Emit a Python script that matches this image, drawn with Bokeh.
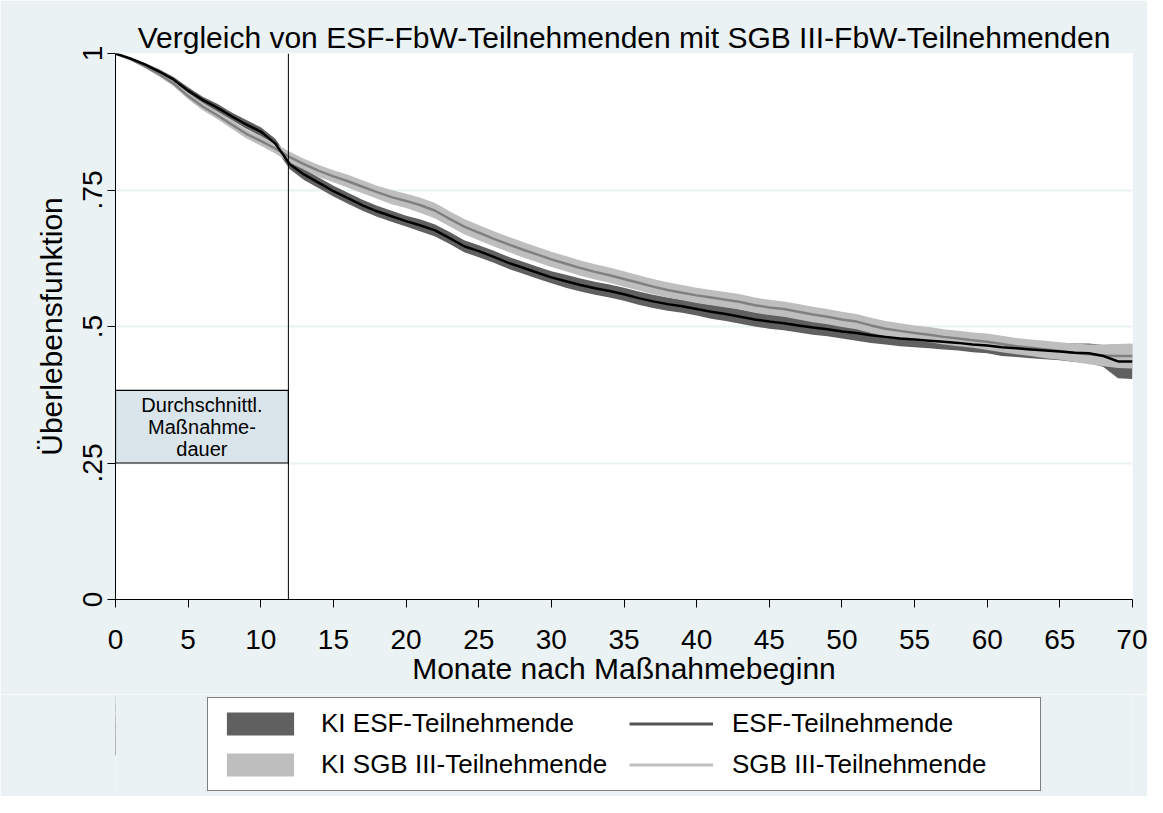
import numpy as np
from bokeh.plotting import figure
from bokeh.layouts import column
from bokeh.models import (ColumnDataSource, Range1d, FixedTicker, Span,
                          Legend, LegendItem)
from bokeh.embed import file_html
from bokeh.resources import INLINE
from bokeh.core.properties import value

# ---------------- data ----------------
months = list(range(0, 71))
esf_surv = [1.000, 0.991, 0.980, 0.967, 0.952, 0.932, 0.915, 0.901, 0.885, 0.870,
            0.857, 0.835, 0.797, 0.778, 0.763, 0.748, 0.735, 0.722, 0.711, 0.702,
            0.693, 0.685, 0.676, 0.662, 0.647, 0.638, 0.628, 0.617, 0.608, 0.599,
            0.590, 0.583, 0.576, 0.570, 0.565, 0.559, 0.552, 0.546, 0.541, 0.537,
            0.532, 0.527, 0.523, 0.518, 0.513, 0.509, 0.506, 0.502, 0.498, 0.495,
            0.491, 0.488, 0.484, 0.481, 0.478, 0.476, 0.474, 0.472, 0.470, 0.467,
            0.465, 0.462, 0.460, 0.458, 0.456, 0.454, 0.452, 0.451, 0.446, 0.436,
            0.436]
sgb_surv = [1.000, 0.990, 0.977, 0.962, 0.945, 0.922, 0.903, 0.887, 0.870, 0.853,
            0.840, 0.826, 0.810, 0.797, 0.785, 0.775, 0.766, 0.756, 0.746, 0.737,
            0.730, 0.722, 0.712, 0.697, 0.683, 0.672, 0.661, 0.651, 0.641, 0.632,
            0.623, 0.615, 0.607, 0.600, 0.594, 0.587, 0.580, 0.573, 0.567, 0.562,
            0.557, 0.553, 0.549, 0.545, 0.539, 0.535, 0.532, 0.527, 0.522, 0.518,
            0.513, 0.509, 0.502, 0.496, 0.492, 0.488, 0.485, 0.481, 0.478, 0.475,
            0.472, 0.468, 0.464, 0.461, 0.458, 0.455, 0.452, 0.449, 0.447, 0.446,
            0.446]
esf_ci_half = [0.000, 0.002, 0.003, 0.004, 0.005, 0.006, 0.006, 0.007, 0.007, 0.008,
               0.008, 0.009, 0.009, 0.010, 0.010, 0.010, 0.010, 0.010, 0.010, 0.010,
               0.010, 0.011, 0.011, 0.011, 0.011, 0.011, 0.011, 0.011, 0.011, 0.011,
               0.011, 0.012, 0.012, 0.012, 0.012, 0.012, 0.012, 0.012, 0.012, 0.012,
               0.012, 0.013, 0.013, 0.013, 0.013, 0.013, 0.013, 0.013, 0.013, 0.013,
               0.013, 0.014, 0.014, 0.014, 0.014, 0.014, 0.014, 0.014, 0.014, 0.014,
               0.014, 0.016, 0.016, 0.016, 0.016, 0.016, 0.017, 0.018, 0.020, 0.031,
               0.032]
sgb_ci_half = [0.000, 0.002, 0.003, 0.004, 0.005, 0.006, 0.007, 0.007, 0.008, 0.008,
               0.009, 0.009, 0.010, 0.010, 0.011, 0.011, 0.012, 0.012, 0.012, 0.013,
               0.013, 0.014, 0.014, 0.014, 0.014, 0.014, 0.014, 0.014, 0.014, 0.014,
               0.014, 0.014, 0.014, 0.014, 0.014, 0.014, 0.014, 0.014, 0.014, 0.014,
               0.014, 0.014, 0.014, 0.014, 0.014, 0.014, 0.014, 0.014, 0.014, 0.014,
               0.014, 0.014, 0.014, 0.014, 0.014, 0.014, 0.014, 0.014, 0.014, 0.014,
               0.015, 0.015, 0.015, 0.015, 0.016, 0.016, 0.017, 0.018, 0.020, 0.022,
               0.023]
avg_duration = 11.9          # durchschnittliche Maßnahmedauer (Monate)
box_bottom, box_top = 0.25, 0.383
box_label_lines = ["Durchschnittl.", "Maßnahme-", "dauer"]
x_ticks = list(range(0, 71, 5))
y_ticks = [0, 0.25, 0.5, 0.75, 1]
y_tick_labels = ["0", ".25", ".5", ".75", "1"]
legend_labels = ["KI ESF-Teilnehmende", "KI SGB III-Teilnehmende",
                 "ESF-Teilnehmende", "SGB III-Teilnehmende"]

title_text = "Vergleich von ESF-FbW-Teilnehmenden mit SGB III-FbW-Teilnehmenden"
x_title = "Monate nach Maßnahmebeginn"
y_title = "Überlebensfunktion"

# ---------------- styling ----------------
BG = "#EAF2F3"
FONT = "Liberation Sans"
DARK_BAND = "#606060"
LIGHT_BAND = "#BEBEBE"

m = np.array(months, dtype=float)
e = np.array(esf_surv)
s = np.array(sgb_surv)
he = np.array(esf_ci_half)
hs = np.array(sgb_ci_half)
src = ColumnDataSource(dict(m=m, e=e, s=s, e_lo=e - he, e_hi=e + he,
                            s_lo=s - hs, s_hi=s + hs))

p = figure(output_backend="svg", toolbar_location=None,
           frame_width=1017, frame_height=546,
           min_border_left=115, min_border_right=15,
           min_border_top=53, min_border_bottom=95,
           x_range=Range1d(0, 70), y_range=Range1d(0, 1),
           background_fill_color="white", border_fill_color=BG)
p.outline_line_color = None

p.title.text = title_text
p.title.align = "center"
p.title.text_font = FONT
p.title.text_font_size = "30px"
p.title.text_font_style = "normal"
p.title.text_color = "black"
p.title.standoff = 0

# grid
p.xgrid.visible = False
p.ygrid.ticker = FixedTicker(ticks=[0.25, 0.5, 0.75])
p.ygrid.grid_line_color = BG
p.ygrid.grid_line_width = 2

# axes
for ax in (p.xaxis[0], p.yaxis[0]):
    ax.axis_line_color = "black"
    ax.axis_line_width = 1
    ax.major_tick_line_color = "black"
    ax.major_tick_out = 8
    ax.major_tick_in = 0
    ax.minor_tick_line_color = None
    ax.major_label_text_font = FONT
    ax.major_label_text_font_size = "28px"
    ax.major_label_text_color = "black"
    ax.axis_label_text_font = FONT
    ax.axis_label_text_font_size = "30px"
    ax.axis_label_text_font_style = "normal"
    ax.axis_label_text_color = "black"

p.xaxis.ticker = FixedTicker(ticks=x_ticks)
p.xaxis.axis_label = x_title
p.xaxis.major_label_standoff = 22
p.xaxis.axis_label_standoff = 0

p.yaxis.ticker = FixedTicker(ticks=y_ticks)
p.yaxis.major_label_overrides = {t: l for t, l in zip(y_ticks, y_tick_labels)}
p.yaxis.major_label_orientation = "vertical"
p.yaxis.axis_label = y_title
p.yaxis.major_label_standoff = 6
p.yaxis.axis_label_standoff = 12

# bands and lines
p.varea(x="m", y1="e_lo", y2="e_hi", source=src, fill_color=DARK_BAND)
p.varea(x="m", y1="s_lo", y2="s_hi", source=src, fill_color=LIGHT_BAND)
p.line(x="m", y="s", source=src, line_color="#808080", line_width=2.5)
p.line(x="m", y="e", source=src, line_color="black", line_width=2.5)

# annotation box + vertical line
p.quad(left=[0], right=[avg_duration], bottom=[box_bottom], top=[box_top],
       fill_color="#D9E5EB", line_color="black", line_width=1.2)
p.add_layout(Span(location=avg_duration, dimension="height",
                  line_color="black", line_width=1))
box_mid = (box_bottom + box_top) / 2
step = (box_top - box_bottom) / 3.3
p.text(x=[avg_duration / 2] * 3,
       y=[box_mid + step, box_mid, box_mid - step],
       text=box_label_lines, text_align="center", text_baseline="middle",
       text_font=value(FONT), text_font_size="20px", text_color="black")

# ---------------- legend strip (separate figure underneath) ----------------
# legend keys reuse the same data, drawn outside this strip's visible range
lf = figure(output_backend="svg", toolbar_location=None,
            frame_width=1017, height=102,
            min_border_left=115, min_border_right=15,
            min_border_top=0, min_border_bottom=0,
            x_axis_location=None, y_axis_location=None,
            x_range=Range1d(1000, 1001), y_range=Range1d(0, 1),
            background_fill_color=BG, border_fill_color=BG)
lf.outline_line_color = None
lf.grid.visible = False
k1 = lf.vbar(x="m", bottom="e_lo", top="e_hi", width=0.5, source=src,
             fill_color=DARK_BAND, line_color=None)
k2 = lf.vbar(x="m", bottom="s_lo", top="s_hi", width=0.5, source=src,
             fill_color=LIGHT_BAND, line_color=None)
k3 = lf.line(x="m", y="e", source=src, line_color="#555555", line_width=3)
k4 = lf.line(x="m", y="s", source=src, line_color="#C0C0C0", line_width=3)
legend = Legend(items=[LegendItem(label=legend_labels[0], renderers=[k1]),
                       LegendItem(label=legend_labels[1], renderers=[k2]),
                       LegendItem(label=legend_labels[2], renderers=[k3]),
                       LegendItem(label=legend_labels[3], renderers=[k4])],
                location=(92, 5), orientation="vertical", nrows=2,
                glyph_width=84, glyph_height=29, label_standoff=19,
                label_width=298, spacing=10, padding=10, margin=0,
                label_text_font=FONT, label_text_font_size="26px",
                label_text_color="black",
                border_line_color="black", border_line_width=1,
                background_fill_color="white", background_fill_alpha=1)
lf.add_layout(legend, "center")

layout = column(p, lf, spacing=0)
open("out.html", "w").write(file_html(layout, INLINE))
